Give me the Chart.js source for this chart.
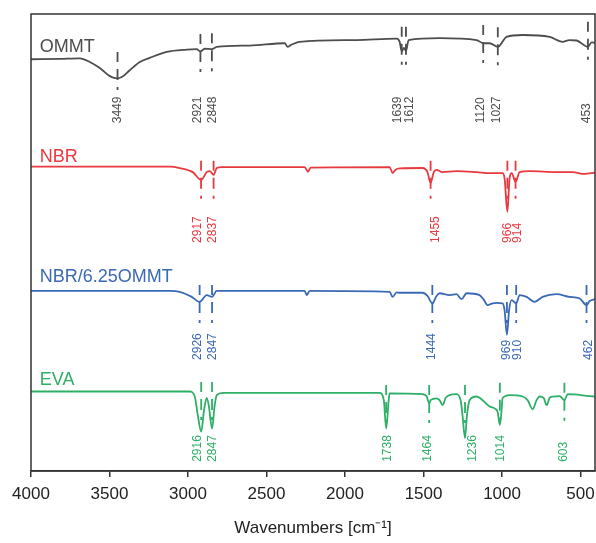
<!DOCTYPE html>
<html>
<head>
<meta charset="utf-8">
<script src="https://cdn.jsdelivr.net/npm/chart.js@4.4.1/dist/chart.umd.min.js"></script>
<style>
  html, body { margin: 0; padding: 0; background: #ffffff; }
  #wrap { width: 596px; height: 543px; }
</style>
</head>
<body>
<div id="wrap"><canvas id="c" width="596" height="543"></canvas></div>
<script>
// ---------- DATA ----------
const tickValues = [4000, 3500, 3000, 2500, 2000, 1500, 1000, 500];
const seriesNames = ['OMMT', 'NBR', 'NBR/6.25OMMT', 'EVA'];

// spectra: [wavenumber, offset transmittance (a.u.)]
const ommtSpectrum = [
  [4000,90.1],[3817,90.2],[3689,90.3],[3626,89.5],[3562,88.2],[3498,86.4],[3450,85.9],[3422,86.2],
  [3371,87.7],[3307,89.5],[3244,90.4],[3136,91.7],[3008,92.2],[2945,92.3],[2921,91.8],[2894,92.4],
  [2848,92.3],[2817,92.8],[2607,93.1],[2384,93.6],[2365,92.8],[2346,93.2],[2289,93.9],[1926,94.3],
  [1671,94.6],[1652,93.9],[1639,91.8],[1625,92.6],[1612,91.9],[1595,94.3],[1398,94.7],[1162,94.3],
  [1120,93.6],[1079,93.6],[1027,92.8],[971,95.0],[869,95.4],[697,95.0],[615,93.9],[570,94.3],
  [525,94.2],[453,92.8],[430,93.8],[408,93.7]
];
const nbrSpectrum = [
  [4000,66.6],[3116,66.6],[3053,66.3],[2970,65.4],[2917,63.7],[2881,65.4],[2862,65.6],[2837,64.8],
  [2817,66.3],[2785,66.5],[2257,66.5],[2236,65.5],[2219,66.4],[1716,66.5],[1697,65.2],[1678,65.9],
  [1652,66.2],[1506,66.3],[1475,65.4],[1455,63.0],[1435,65.4],[1417,65.9],[1380,65.4],[1290,65.6],
  [1162,65.4],[1079,65.2],[997,65.2],[984,64.1],[966,56.7],[952,64.1],[939,65.2],[914,63.3],
  [888,65.4],[825,65.6],[653,65.4],[551,65.4],[475,65.0],[408,65.3]
];
const nbrOmmtSpectrum = [
  [4000,39.4],[3116,39.4],[3053,39.2],[2976,38.1],[2926,37.0],[2881,38.5],[2847,38.1],[2817,39.4],
  [2257,39.4],[2244,38.5],[2225,39.4],[1716,39.2],[1697,38.1],[1671,39.1],[1652,39.0],[1506,39.0],
  [1475,38.3],[1444,36.7],[1417,38.3],[1398,38.9],[1334,38.5],[1290,38.7],[1258,37.6],[1226,38.9],
  [1143,38.5],[1117,37.5],[1092,36.3],[1060,36.7],[1035,36.8],[997,36.7],[984,35.2],[969,29.8],
  [955,35.2],[939,37.4],[910,36.7],[888,38.5],[843,38.1],[793,37.0],[742,38.1],[653,38.7],
  [570,38.1],[507,37.8],[462,36.3],[442,37.2],[408,37.6]
];
const evaSpectrum = [
  [4000,17.4],[2989,17.4],[2957,16.3],[2938,12.3],[2916,8.6],[2898,13.3],[2881,16.0],[2868,14.4],
  [2847,9.3],[2830,14.4],[2817,16.6],[2779,17.1],[1780,17.1],[1753,15.5],[1738,9.3],[1722,15.5],
  [1716,17.0],[1506,16.8],[1481,16.4],[1464,14.8],[1455,15.5],[1417,15.9],[1398,15.5],[1378,14.4],
  [1359,16.0],[1334,16.6],[1290,16.8],[1264,15.5],[1252,12.3],[1236,7.2],[1223,12.3],[1207,15.5],
  [1162,16.3],[1124,15.5],[1079,14.1],[1047,13.7],[1028,12.9],[1014,10.1],[1003,13.3],[997,15.9],
  [952,16.6],[869,16.3],[837,15.5],[805,13.5],[780,15.5],[761,16.3],[735,16.0],[716,14.4],
  [697,16.0],[678,16.3],[633,16.4],[603,15.5],[582,16.8],[442,16.4],[408,16.3]
];

// assigned peaks (wavenumbers), label positions and marker tops
const ommtPeaks     = [3449, 2921, 2848, 1639, 1612, 1120, 1027, 453];
const ommtLabelAt   = [3449, 2938, 2845, 1665, 1589, 1139, 1031, 461];
const ommtMarkTop   = [91.7, 95.6, 95.8, 97.2, 97.2, 97.6, 97.1, 98.3];

const nbrPeaks      = [2917, 2837, 1455, 966, 914];
const nbrLabelAt    = [2938, 2845, 1425, 965, 901];
const nbrMarkTop    = [67.9, 67.9, 67.9, 67.9, 67.9];

const nbrOmmtPeaks    = [2926, 2847, 1444, 969, 910, 462];
const nbrOmmtLabelAt  = [2936, 2845, 1446, 973, 901, 448];
const nbrOmmtMarkTop  = [40.7, 40.7, 40.7, 40.7, 40.7, 40.7];

const evaPeaks      = [2916, 2847, 1738, 1464, 1236, 1014, 603];
const evaLabelAt    = [2938, 2845, 1731, 1472, 1190, 1011, 606];
const evaMarkTop    = [19.5, 19.5, 18.8, 18.8, 18.8, 19.3, 19.3];

// ---------- STYLE / LAYOUT ----------
const FONT = '"Liberation Sans", Arial, Helvetica, sans-serif';
const colors = ['#4d4d4d', '#e8393e', '#3a69b5', '#2daf66'];
const series = [
  { name: seriesNames[0], spec: ommtSpectrum,    peaks: ommtPeaks,    labelAt: ommtLabelAt,    markTop: ommtMarkTop,    labelBase: 76.1, nameY: 91.7 },
  { name: seriesNames[1], spec: nbrSpectrum,     peaks: nbrPeaks,     labelAt: nbrLabelAt,     markTop: nbrMarkTop,     labelBase: 49.9, nameY: 67.6 },
  { name: seriesNames[2], spec: nbrOmmtSpectrum, peaks: nbrOmmtPeaks, labelAt: nbrOmmtLabelAt, markTop: nbrOmmtMarkTop, labelBase: 24.3, nameY: 41.4 },
  { name: seriesNames[3], spec: evaSpectrum,     peaks: evaPeaks,     labelAt: evaLabelAt,     markTop: evaMarkTop,     labelBase: 2.0,  nameY: 18.8 }
];
const MARK_LEN = 8.75;   // y-units (≈40 px)
const NAME_X = 3944;

const datasets = [];
series.forEach((s, i) => {
  datasets.push({
    label: s.name,
    data: s.spec.map(p => ({ x: p[0], y: p[1] })),
    borderColor: colors[i],
    borderWidth: 1.8,
    showLine: true,
    pointRadius: 0,
    cubicInterpolationMode: 'monotone',
    fill: false,
    order: 1
  });
  s.peaks.forEach((wn, k) => {
    datasets.push({
      label: s.name + ' ' + wn,
      data: [{ x: wn, y: s.markTop[k] }, { x: wn, y: s.markTop[k] - MARK_LEN }],
      borderColor: colors[i],
      borderWidth: 1.8,
      borderDash: [10, 7, 11, 7, 3, 200],
      showLine: true,
      pointRadius: 0,
      fill: false,
      order: 0
    });
  });
});

const annotatePlugin = {
  id: 'annotate',
  afterDatasetsDraw(chart) {
    const ctx = chart.ctx;
    const xs = chart.scales.x, ys = chart.scales.y;
    const ca = chart.chartArea;
    ctx.save();
    // frame
    ctx.strokeStyle = '#333333';
    ctx.lineWidth = 1.5;
    ctx.strokeRect(ca.left, ca.top, ca.right - ca.left, ca.bottom - ca.top);
    series.forEach((s, i) => {
      // series name
      ctx.fillStyle = colors[i];
      ctx.font = '18px ' + FONT;
      ctx.textAlign = 'left';
      ctx.textBaseline = 'alphabetic';
      ctx.fillText(s.name, xs.getPixelForValue(NAME_X), ys.getPixelForValue(s.nameY));
      // peak labels (rotated)
      ctx.font = '12px ' + FONT;
      s.peaks.forEach((wn, k) => {
        const px = xs.getPixelForValue(s.labelAt[k]);
        const py = ys.getPixelForValue(s.labelBase);
        ctx.save();
        ctx.translate(px, py);
        ctx.rotate(-Math.PI / 2);
        ctx.textAlign = 'left';
        ctx.textBaseline = 'middle';
        ctx.fillText(String(wn), 0, 0);
        ctx.restore();
      });
    });
    ctx.restore();
  }
};

new Chart(document.getElementById('c'), {
  type: 'scatter',
  data: { datasets },
  options: {
    responsive: false,
    animation: false,
    devicePixelRatio: 1,
    layout: { padding: { left: 31, right: 1, top: 14, bottom: 0 } },
    plugins: { legend: { display: false }, tooltip: { enabled: false } },
    scales: {
      x: {
        type: 'linear',
        reverse: true,
        min: 408,
        max: 4000,
        afterBuildTicks: (scale) => { scale.ticks = tickValues.map(v => ({ value: v })); },
        afterFit: (scale) => { scale.paddingLeft = 0; scale.paddingRight = 0; scale.height = 72; },
        ticks: {
          color: '#222222',
          font: { family: FONT, size: 17 },
          padding: 7,
          maxRotation: 0,
          autoSkip: false,
          callback: (v) => String(v)
        },
        grid: { display: true, drawOnChartArea: false, drawTicks: true, tickLength: 6, color: '#333333', lineWidth: 1.5 },
        border: { display: true, color: '#333333', width: 1.5 },
        title: {
          display: true,
          text: 'Wavenumbers [cm\u207B\u00B9]',
          color: '#222222',
          font: { family: FONT, size: 17 },
          padding: { top: 0, bottom: 4 }
        }
      },
      y: {
        type: 'linear',
        min: 0,
        max: 100,
        display: false
      }
    }
  },
  plugins: [annotatePlugin]
});
</script>
</body>
</html>
